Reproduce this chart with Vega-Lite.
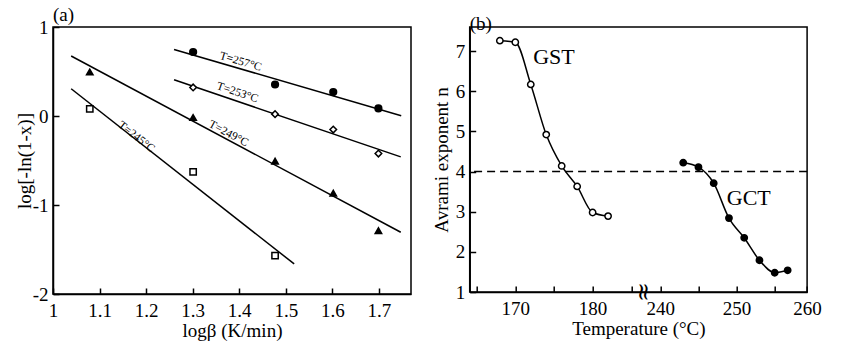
{
  "$schema": "https://vega.github.io/schema/vega-lite/v6.json",
  "padding": {"left": 14, "top": 5, "right": 5, "bottom": 5},
  "background": "white",
  "config": {
    "font": "Liberation Serif",
    "view": {"stroke": "black", "strokeWidth": 1.5},
    "axis": {
      "domainColor": "black", "domainWidth": 1.5,
      "tickColor": "black", "tickWidth": 1.5, "tickSize": -6,
      "grid": false,
      "labelFont": "Liberation Serif", "labelFontSize": 19, "labelColor": "black",
      "titleFont": "Liberation Serif", "titleFontSize": 19, "titleFontWeight": "normal", "titleColor": "black",
      "labelPadding": 11, "labelFlush": false, "labelOverlap": false, "titlePadding": -2, "tickCount": 30
    },
    "axisX": {"titlePadding": 1, "labelPadding": 13},
    "title": {"font": "Liberation Serif", "fontSize": 19, "fontWeight": "normal", "anchor": "start", "frame": "group", "offset": -7, "color": "black"}
  },
  "resolve": {"scale": {"fill": "independent", "shape": "independent", "size": "independent"}},
  "datasets": {
    "apoints": [
      {"T": "257", "logb": 1.301, "val": 0.719},
      {"T": "257", "logb": 1.477, "val": 0.354},
      {"T": "257", "logb": 1.602, "val": 0.269},
      {"T": "257", "logb": 1.699, "val": 0.085},
      {"T": "253", "logb": 1.301, "val": 0.321},
      {"T": "253", "logb": 1.477, "val": 0.021},
      {"T": "253", "logb": 1.602, "val": -0.152},
      {"T": "253", "logb": 1.699, "val": -0.422},
      {"T": "249", "logb": 1.079, "val": 0.494},
      {"T": "249", "logb": 1.301, "val": -0.017},
      {"T": "249", "logb": 1.477, "val": -0.507},
      {"T": "249", "logb": 1.602, "val": -0.867},
      {"T": "249", "logb": 1.699, "val": -1.288},
      {"T": "245", "logb": 1.079, "val": 0.081},
      {"T": "245", "logb": 1.301, "val": -0.628},
      {"T": "245", "logb": 1.477, "val": -1.569}
    ],
    "fits": [
      {"T": "257", "logb": 1.260, "val": 0.748},
      {"T": "257", "logb": 1.748, "val": 0.002},
      {"T": "253", "logb": 1.260, "val": 0.407},
      {"T": "253", "logb": 1.747, "val": -0.459},
      {"T": "249", "logb": 1.039, "val": 0.674},
      {"T": "249", "logb": 1.747, "val": -1.306},
      {"T": "245", "logb": 1.039, "val": 0.306},
      {"T": "245", "logb": 1.518, "val": -1.662}
    ],
    "alabels": [
      {"T": "257", "text": "T=257°C", "logb": 1.403, "val": 0.607},
      {"T": "253", "text": "T=253°C", "logb": 1.396, "val": 0.261},
      {"T": "249", "text": "T=249°C", "logb": 1.377, "val": -0.200},
      {"T": "245", "text": "T=245°C", "logb": 1.179, "val": -0.237}
    ],
    "bpoints": [
      {"alloy": "GST", "temp": 168, "n": 7.26},
      {"alloy": "GST", "temp": 170, "n": 7.22},
      {"alloy": "GST", "temp": 172, "n": 6.17},
      {"alloy": "GST", "temp": 174, "n": 4.92},
      {"alloy": "GST", "temp": 176, "n": 4.14},
      {"alloy": "GST", "temp": 178, "n": 3.63},
      {"alloy": "GST", "temp": 180, "n": 2.98},
      {"alloy": "GST", "temp": 182, "n": 2.89},
      {"alloy": "GCT", "temp": 243, "n": 4.22},
      {"alloy": "GCT", "temp": 245, "n": 4.11},
      {"alloy": "GCT", "temp": 247, "n": 3.71},
      {"alloy": "GCT", "temp": 249, "n": 2.84},
      {"alloy": "GCT", "temp": 251, "n": 2.35},
      {"alloy": "GCT", "temp": 253, "n": 1.79},
      {"alloy": "GCT", "temp": 255, "n": 1.48},
      {"alloy": "GCT", "temp": 257, "n": 1.54}
    ],
    "blabels": [
      {"alloy": "GST", "temp": 175, "n": 6.85},
      {"alloy": "GCT", "temp": 251.6, "n": 3.35}
    ],
    "brk": [
      {"mark": "≈", "temp": 190, "n": 1}
    ],
    "ref": [
      {"n": 4}
    ]
  },
  "spacing": 18.7,
  "hconcat": [
    {
      "width": 358,
      "height": 267,
      "title": {"text": "(a)"},
      "layer": [
        {
          "data": {"name": "fits"},
          "mark": {"type": "line", "color": "black", "strokeWidth": 1.5},
          "encoding": {
            "x": {"field": "logb", "type": "quantitative",
                  "scale": {"domain": [1, 1.769], "nice": false, "zero": false},
                  "axis": {"values": [1, 1.1, 1.2, 1.3, 1.4, 1.5, 1.6, 1.7], "format": "~g", "title": "logβ (K/min)"}},
            "y": {"field": "val", "type": "quantitative",
                  "scale": {"domain": [-2, 1], "nice": false, "zero": false},
                  "axis": {"values": [-2, -1, 0, 1], "format": "d", "labelExpr": "replace(datum.label, '−', '-')", "title": "log[-ln(1-x)]"}},
            "detail": {"field": "T", "type": "nominal"}
          }
        },
        {
          "data": {"name": "apoints"},
          "mark": {"type": "point", "stroke": "black", "strokeWidth": 1.5, "opacity": 1, "fillOpacity": 1},
          "encoding": {
            "x": {"field": "logb", "type": "quantitative"},
            "y": {"field": "val", "type": "quantitative"},
            "shape": {"field": "T", "type": "nominal", "scale": {"domain": ["257", "253", "249", "245"], "range": ["circle", "diamond", "triangle-up", "square"]}, "legend": null},
            "fill": {"field": "T", "type": "nominal", "scale": {"domain": ["257", "253", "249", "245"], "range": ["black", "white", "black", "white"]}, "legend": null},
            "size": {"field": "T", "type": "nominal", "scale": {"domain": ["257", "253", "249", "245"], "range": [45, 40, 60, 40]}, "legend": null}
          }
        },
        {
          "data": {"name": "alabels"},
          "transform": [{"filter": "datum.T == '257'"}],
          "mark": {"type": "text", "angle": 16.3, "fontSize": 11.5, "font": "Liberation Serif", "color": "black", "align": "center", "baseline": "middle"},
          "encoding": {"x": {"field": "logb", "type": "quantitative"}, "y": {"field": "val", "type": "quantitative"}, "text": {"field": "text"}}
        },
        {
          "data": {"name": "alabels"},
          "transform": [{"filter": "datum.T == '253'"}],
          "mark": {"type": "text", "angle": 18.7, "fontSize": 11.5, "font": "Liberation Serif", "color": "black", "align": "center", "baseline": "middle"},
          "encoding": {"x": {"field": "logb", "type": "quantitative"}, "y": {"field": "val", "type": "quantitative"}, "text": {"field": "text"}}
        },
        {
          "data": {"name": "alabels"},
          "transform": [{"filter": "datum.T == '249'"}],
          "mark": {"type": "text", "angle": 28.1, "fontSize": 11.5, "font": "Liberation Serif", "color": "black", "align": "center", "baseline": "middle"},
          "encoding": {"x": {"field": "logb", "type": "quantitative"}, "y": {"field": "val", "type": "quantitative"}, "text": {"field": "text"}}
        },
        {
          "data": {"name": "alabels"},
          "transform": [{"filter": "datum.T == '245'"}],
          "mark": {"type": "text", "angle": 38.2, "fontSize": 11.5, "font": "Liberation Serif", "color": "black", "align": "center", "baseline": "middle"},
          "encoding": {"x": {"field": "logb", "type": "quantitative"}, "y": {"field": "val", "type": "quantitative"}, "text": {"field": "text"}}
        }
      ]
    },
    {
      "width": 337.4,
      "height": 265,
      "title": {"text": "(b)"},
      "layer": [
        {
          "data": {"name": "bpoints"},
          "mark": {"type": "line", "color": "black", "strokeWidth": 1.5, "interpolate": "monotone"},
          "encoding": {
            "x": {"field": "temp", "type": "quantitative",
                  "scale": {"domain": [164.1, 186.4, 238.8, 255, 260], "range": [0, 172.4, 181.5, 305, 337.4], "nice": false, "zero": false},
                  "axis": {"values": [165, 170, 175, 180, 185, 240, 245, 250, 255, 260], "labelExpr": "datum.value % 10 === 0 ? datum.label : ''", "title": "Temperature (°C)"}},
            "y": {"field": "n", "type": "quantitative",
                  "scale": {"domain": [1, 7.6], "nice": false, "zero": false},
                  "axis": {"values": [1, 2, 3, 4, 5, 6, 7], "format": "d", "title": "Avrami exponent n", "titlePadding": 4}},
            "detail": {"field": "alloy", "type": "nominal"}
          }
        },
        {
          "data": {"name": "ref"},
          "mark": {"type": "rule", "strokeDash": [8, 5], "strokeWidth": 1.5, "color": "black"},
          "encoding": {"y": {"field": "n", "type": "quantitative"}}
        },
        {
          "data": {"name": "bpoints"},
          "mark": {"type": "point", "shape": "circle", "stroke": "black", "strokeWidth": 1.5, "opacity": 1, "fillOpacity": 1, "size": 40},
          "encoding": {
            "x": {"field": "temp", "type": "quantitative"},
            "y": {"field": "n", "type": "quantitative"},
            "fill": {"field": "alloy", "type": "nominal", "scale": {"domain": ["GST", "GCT"], "range": ["white", "black"]}, "legend": null}
          }
        },
        {
          "data": {"name": "blabels"},
          "mark": {"type": "text", "fontSize": 22, "font": "Liberation Serif", "color": "black", "align": "center", "baseline": "middle"},
          "encoding": {"x": {"field": "temp", "type": "quantitative"}, "y": {"field": "n", "type": "quantitative"}, "text": {"field": "alloy"}}
        },
        {
          "data": {"name": "brk"},
          "mark": {"type": "text", "fontSize": 24, "font": "DejaVu Serif", "color": "black", "align": "center", "baseline": "middle", "angle": 90},
          "encoding": {"x": {"field": "temp", "type": "quantitative"}, "y": {"field": "n", "type": "quantitative"}, "text": {"field": "mark"}}
        }
      ]
    }
  ]
}
